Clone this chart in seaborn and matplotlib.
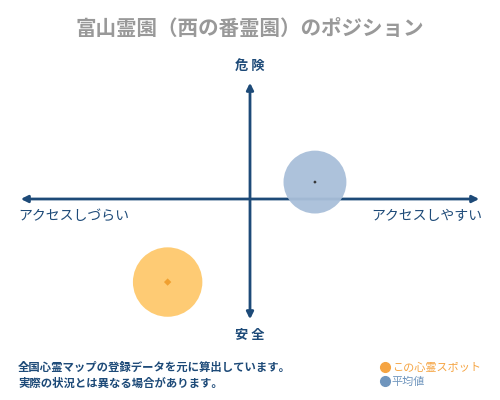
import pandas as pd
import matplotlib.pyplot as plt
import seaborn as sns
from matplotlib.lines import Line2D

labels = ['平均値', 'この心霊スポット']
access = [0.28, -0.355]   # + = アクセスしやすい
danger = [0.073, -0.358]  # + = 危険

df = pd.DataFrame({'label': labels, 'access': access, 'danger': danger})

sns.set_theme(style='white')
plt.rcParams['font.family'] = ['Noto Sans CJK JP', 'DejaVu Sans']

navy = '#1d4a78'
orange = '#f5a442'
blue = '#6f95bd'

fig = plt.figure(figsize=(5, 4), dpi=100)
ax = fig.add_axes([0, 0, 1, 1])
ax.set_xlim(-250 / 232, 250 / 232)
ax.set_ylim(-201 / 232, 199 / 232)
ax.axis('off')

# axes with arrow heads
ax.annotate('', xy=(-1, 0), xytext=(1, 0),
            arrowprops=dict(arrowstyle='<|-|>', color=navy, lw=2, mutation_scale=10))
ax.annotate('', xy=(0, 119 / 232), xytext=(0, -123 / 232),
            arrowprops=dict(arrowstyle='<|-|>', color=navy, lw=2, mutation_scale=10))

sns.scatterplot(data=df, x='access', y='danger', hue='label',
                palette={'平均値': '#a9bfd9', 'この心霊スポット': '#fec96c'},
                size='label', sizes={'平均値': 2050, 'この心霊スポット': 2500},
                linewidth=0, alpha=0.95, legend=False, ax=ax, zorder=3)
sns.scatterplot(data=df, x='access', y='danger', hue='label',
                palette={'平均値': '#333333', 'この心霊スポット': '#f0a030'},
                size='label', sizes={'平均値': 3, 'この心霊スポット': 14},
                marker='D', linewidth=0, legend=False, ax=ax, zorder=4)

fig.text(0.5, 1 - 28 / 400, '富山霊園（西の番霊園）のポジション', ha='center', va='center',
         fontsize=14.8, color='#999999', fontweight='bold')
fig.text(0.5, 1 - 66 / 400, '危 険', ha='center', va='center', fontsize=9.5,
         color=navy, fontweight='bold')
fig.text(0.5, 1 - 335 / 400, '安 全', ha='center', va='center', fontsize=9.5,
         color=navy, fontweight='bold')
fig.text(18 / 500, 1 - 216 / 400, 'アクセスしづらい', ha='left', va='center',
         fontsize=10, color=navy)
fig.text(482 / 500, 1 - 216 / 400, 'アクセスしやすい', ha='right', va='center',
         fontsize=10, color=navy)
fig.text(18 / 500, 1 - 367 / 400, '全国心霊マップの登録データを元に算出しています。',
         ha='left', va='center', fontsize=8.2, color=navy, fontweight='bold')
fig.text(18 / 500, 1 - 383 / 400, '実際の状況とは異なる場合があります。',
         ha='left', va='center', fontsize=8.2, color=navy, fontweight='bold')

handles = [Line2D([], [], marker='o', ls='', color=orange, markersize=7),
           Line2D([], [], marker='o', ls='', color=blue, markersize=7)]
leg = fig.legend(handles, ['この心霊スポット', '平均値'], loc='upper left',
                 bbox_to_anchor=(374 / 500, 1 - 357 / 400), frameon=False,
                 fontsize=8, handletextpad=0.1, labelspacing=0.35,
                 handlelength=1.0, borderpad=0)
for t, c in zip(leg.get_texts(), [orange, blue]):
    t.set_color(c)

fig.savefig('out.png', dpi=100, facecolor='white')
